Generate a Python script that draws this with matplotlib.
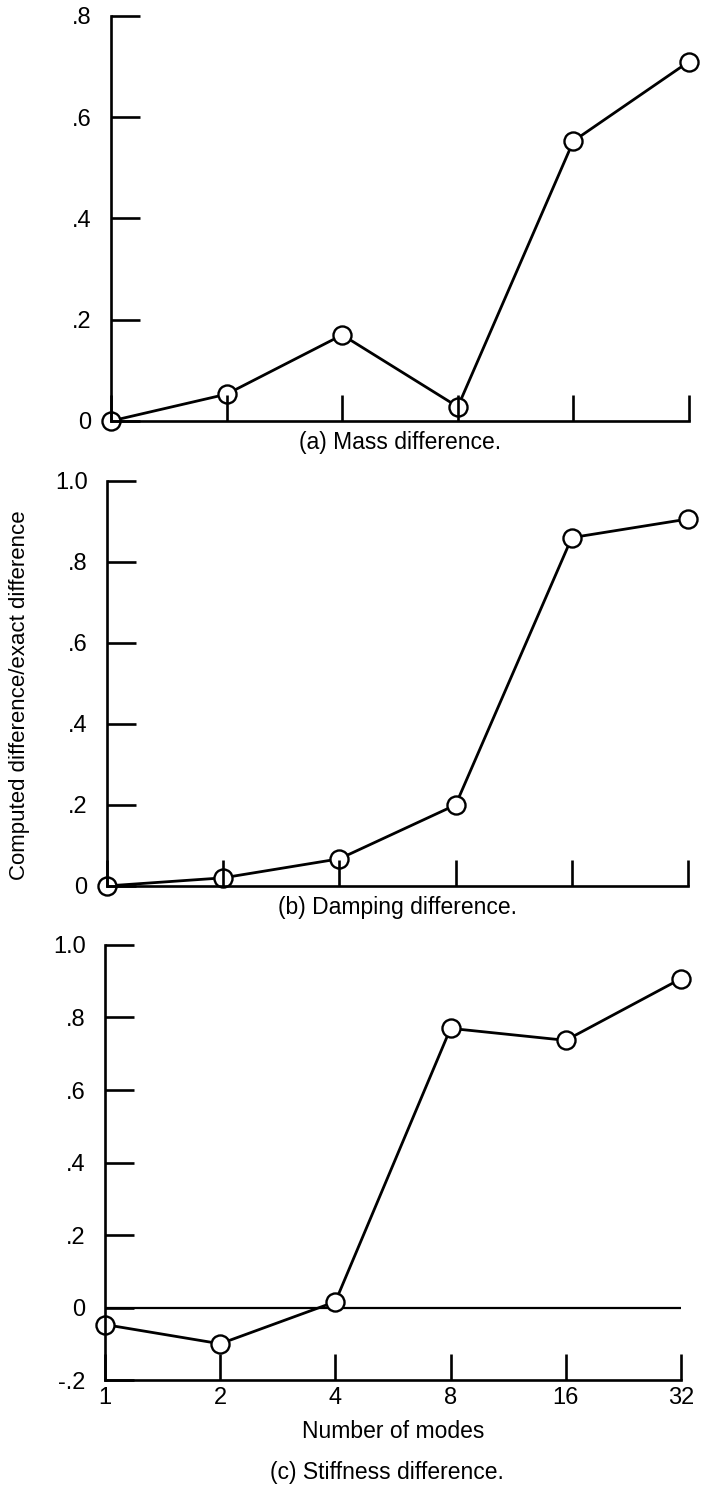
import matplotlib
matplotlib.use("Agg")
import matplotlib.pyplot as plt

plt.rcParams["font.family"] = ["Liberation Sans", "DejaVu Sans"]

modes = [1, 2, 4, 8, 16, 32]
mode_labels = ["1", "2", "4", "8", "16", "32"]

mass_ratio = [0.0, 0.053, 0.17, 0.028, 0.553, 0.71]
damping_ratio = [0.0, 0.02, 0.067, 0.20, 0.86, 0.906]
stiffness_ratio = [-0.047, -0.10, 0.016, 0.77, 0.737, 0.907]

mass_yticks = [0, 0.2, 0.4, 0.6, 0.8]
mass_ylabels = ["0", ".2", ".4", ".6", ".8"]
damp_yticks = [0, 0.2, 0.4, 0.6, 0.8, 1.0]
damp_ylabels = ["0", ".2", ".4", ".6", ".8", "1.0"]
stiff_yticks = [-0.2, 0, 0.2, 0.4, 0.6, 0.8, 1.0]
stiff_ylabels = ["-.2", "0", ".2", ".4", ".6", ".8", "1.0"]


def style_axes(ax, yticks, ylabels, show_xlabels):
    ax.set_xscale("log", base=2)
    ax.set_xlim(modes[0], modes[-1])
    ax.set_ylim(yticks[0], yticks[-1])
    ax.spines["top"].set_visible(False)
    ax.spines["right"].set_visible(False)
    for side in ("left", "bottom"):
        ax.spines[side].set_linewidth(1.9)
    ax.set_yticks(yticks)
    ax.set_yticklabels(ylabels)
    ax.set_xticks(modes)
    ax.xaxis.set_minor_locator(plt.NullLocator())
    if show_xlabels:
        ax.set_xticklabels(mode_labels)
    else:
        ax.set_xticklabels([])
    ax.tick_params(axis="y", direction="in", length=21, width=1.9,
                   pad=14, labelsize=17)
    ax.tick_params(axis="x", direction="in", length=19, width=1.9,
                   pad=5, labelsize=17)
    ax.set_axisbelow(False)


def plot_ratio(ax, values):
    ax.plot(modes, values, color="black", linewidth=2, marker="o",
            markersize=13, markerfacecolor="white", markeredgewidth=1.7,
            clip_on=False, zorder=2)


fig = plt.figure(figsize=(7.04, 14.95), dpi=100)

ax_a = fig.add_axes([0.1577, 0.7184, 0.821, 0.2709])
plot_ratio(ax_a, mass_ratio)
style_axes(ax_a, mass_yticks, mass_ylabels, False)
ax_a.set_xlabel("(a) Mass difference.", fontsize=16.5, labelpad=2)

ax_b = fig.add_axes([0.152, 0.4074, 0.8253, 0.2709])
plot_ratio(ax_b, damping_ratio)
style_axes(ax_b, damp_yticks, damp_ylabels, False)
ax_b.set_xlabel("(b) Damping difference.", fontsize=16.5, labelpad=2)

ax_c = fig.add_axes([0.1491, 0.0769, 0.8182, 0.291])
ax_c.axhline(0, color="black", linewidth=1.6, zorder=1)
plot_ratio(ax_c, stiffness_ratio)
style_axes(ax_c, stiff_yticks, stiff_ylabels, True)
ax_c.set_xlabel("Number of modes", fontsize=16.5, labelpad=8)

fig.text(0.55, 1 - 1473 / 1495, "(c) Stiffness difference.", fontsize=16.5,
         ha="center", va="center")
fig.text(0.027, 0.535, "Computed difference/exact difference", fontsize=16,
         rotation=90, ha="center", va="center")

fig.savefig("out.png", dpi=100)
